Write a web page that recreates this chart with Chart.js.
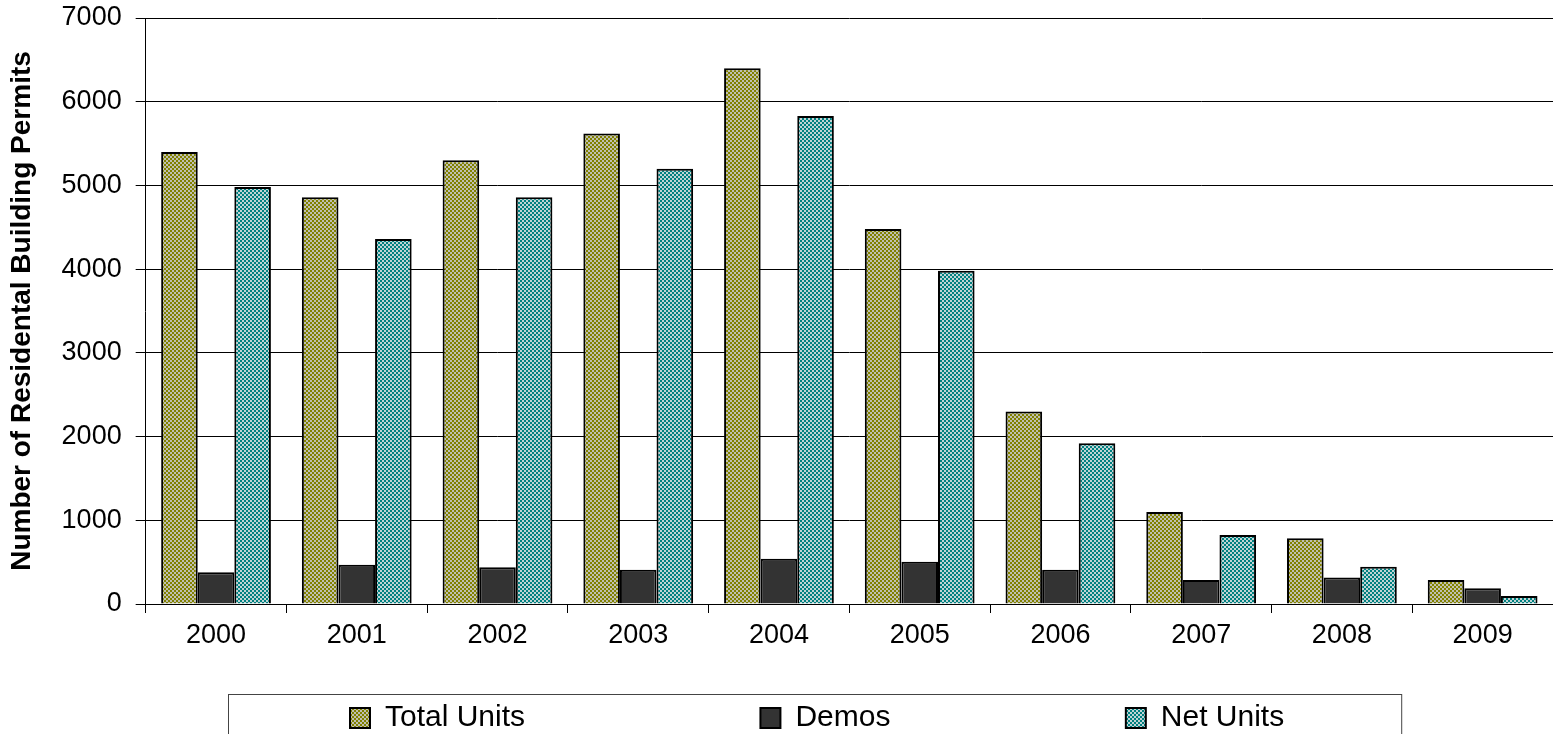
<!DOCTYPE html>
<html>
<head>
<meta charset="utf-8">
<script src="https://cdn.jsdelivr.net/npm/chart.js@4/dist/chart.umd.min.js"></script>
<style>
	html, body { margin: 0; padding: 0; background: #fff; }
	#wrap { width: 1553px; height: 734px; position: relative; }
</style>
</head>
<body>
<div id="wrap"><canvas id="chart"></canvas></div>
<script>
const years = ['2000', '2001', '2002', '2003', '2004', '2005', '2006', '2007', '2008', '2009'];
const totalUnits = [5400, 4860, 5300, 5620, 6400, 4480, 2300, 1100, 785, 287];
const demos = [380, 470, 440, 410, 540, 505, 410, 287, 318, 187];
const netUnits = [4980, 4360, 4860, 5200, 5830, 3980, 1920, 825, 446, 96];
const yTicks = [0, 1000, 2000, 3000, 4000, 5000, 6000, 7000];

const FONT = 'Liberation Sans, Arial, sans-serif';
const canvas = document.getElementById('chart');
const ctx = canvas.getContext('2d');

// small checker tile, like the old office fill patterns
const checker = (c1, c2) => {
	const tile = document.createElement('canvas');
	tile.width = 4;
	tile.height = 4;
	const g = tile.getContext('2d');
	g.fillStyle = c1;
	g.fillRect(0, 0, 4, 4);
	g.fillStyle = c2;
	g.fillRect(0, 0, 2, 2);
	g.fillRect(2, 2, 2, 2);
	return ctx.createPattern(tile, 'repeat');
};

// move legend row to where the original sits, then frame it
const legendBox = {
	id: 'legendBox',
	afterLayout(chart) {
		const lg = chart.legend;
		const pad = lg.options.labels.padding;
		const start = (lg.left + pad + lg.right - lg.lineWidths[0]) / 2;
		const dx = 350 - start;
		lg.left += dx;
		lg.right += dx;
	},
	afterDraw(chart) {
		const lg = chart.legend;
		const boxes = lg.legendHitBoxes;
		if (!boxes || !boxes.length) return;
		const last = boxes[boxes.length - 1];
		const left = boxes[0].left - 122;
		const right = last.left + last.width + 117;
		const top = lg.top - 7;
		const c = chart.ctx;
		c.save();
		c.strokeStyle = '#444';
		c.lineWidth = 1;
		c.strokeRect(Math.round(left) + 0.5, Math.round(top) + 0.5, right - left, 80);
		c.restore();
	}
};

const barBase = {
	borderColor: '#000',
	borderWidth: 2,
	barPercentage: 1,
	categoryPercentage: 0.78
};

new Chart(canvas, {
	type: 'bar',
	data: {
		labels: years,
		datasets: [
			{ ...barBase, label: 'Total Units', data: totalUnits, backgroundColor: checker('#c0c0b0', '#808000') },
			{ ...barBase, label: 'Demos', data: demos, backgroundColor: '#333333' },
			{ ...barBase, label: 'Net Units', data: netUnits, backgroundColor: checker('#c0d4d4', '#008080') }
		]
	},
	options: {
		responsive: true,
		maintainAspectRatio: false,
		animation: false,
		layout: { padding: { left: 0, right: 0, top: 0, bottom: -9 } },
		plugins: {
			tooltip: { enabled: false },
			legend: {
				position: 'bottom',
				labels: {
					color: '#000',
					boxWidth: 20,
					boxHeight: 20,
					padding: 2,
					font: { family: FONT, size: 30 },
					generateLabels: chart => {
						const items = Chart.defaults.plugins.legend.labels.generateLabels(chart);
						items.forEach((it, i) => {
							if (i < items.length - 1) it.text += ' '.repeat(28);
							it.strokeStyle = '#000';
							it.lineWidth = 2;
						});
						return items;
					}
				}
			}
		},
		scales: {
			x: {
				offset: true,
				grid: {
					display: true,
					offset: true,
					drawOnChartArea: false,
					drawTicks: true,
					tickLength: 9,
					color: '#000'
				},
				border: { color: '#000', width: 1 },
				ticks: {
					color: '#000',
					padding: 6,
					maxRotation: 0,
					font: { family: FONT, size: 27 }
				},
				afterFit: axis => { axis.height = 97; }
			},
			y: {
				min: 0,
				max: 7000,
				afterBuildTicks: axis => { axis.ticks = yTicks.map(v => ({ value: v })); },
				afterFit: axis => { axis.paddingTop = 18; },
				grid: {
					color: '#000',
					lineWidth: 1,
					tickLength: 10
				},
				border: { color: '#000', width: 1 },
				ticks: {
					color: '#000',
					padding: 14,
					font: { family: FONT, size: 27 },
					callback: v => String(v)
				},
				title: {
					display: true,
					text: 'Number of Residental Building Permits',
					color: '#000',
					padding: { top: 5, bottom: 9 },
					font: { family: FONT, size: 28, weight: 'bold' }
				}
			}
		}
	},
	plugins: [legendBox]
});
</script>
</body>
</html>
